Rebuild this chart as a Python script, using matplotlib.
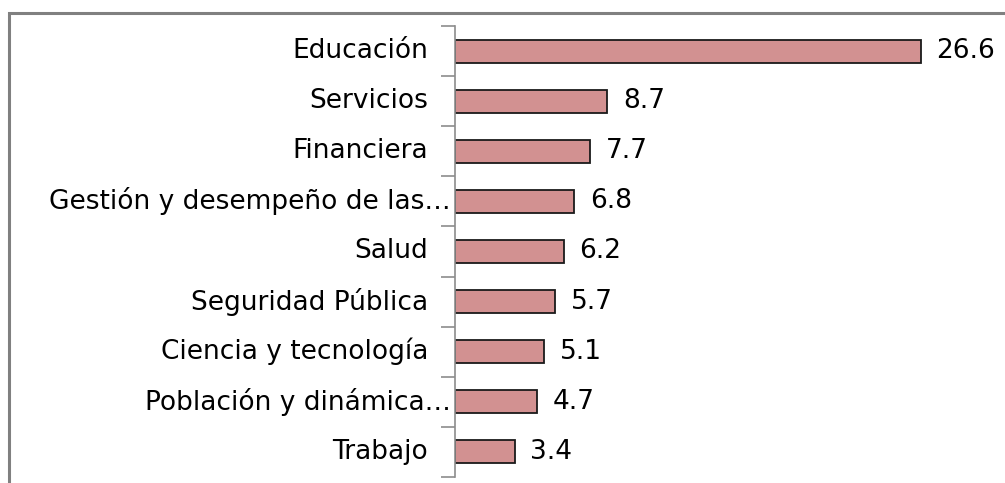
import matplotlib.pyplot as plt
from matplotlib.patches import Rectangle
import numpy as np

categories = ["Educación", "Servicios", "Financiera", "Gestión y desempeño de las…",
              "Salud", "Seguridad Pública", "Ciencia y tecnología",
              "Población y dinámica…", "Trabajo"]
values = [26.6, 8.7, 7.7, 6.8, 6.2, 5.7, 5.1, 4.7, 3.4]

W, H = 1005, 483
fig = plt.figure(figsize=(W / 100, H / 100), dpi=100)

# outer frame (right/bottom edges fall outside the image, like the original)
fig.patches.append(Rectangle((8.5 / W, -0.1), 1.2, 1.1 - 13.5 / H, transform=fig.transFigure,
                             fill=False, edgecolor="#808080", linewidth=2.2))

ax = fig.add_axes([455 / W, 1 - 477 / H, 525 / W, 451 / H])
y = np.arange(len(categories))
ax.barh(y, values, height=0.46, color="#d29191", edgecolor="#1a1a1a", linewidth=1.3)

for yi, v in zip(y, values):
    ax.text(v + 0.9, yi, f"{v:.1f}", va="center", ha="left", fontsize=19)

# category labels; truncated ones run right up to the axis
for yi, lab in zip(y, categories):
    off = -4 if lab.endswith("…") else -27
    ax.annotate(lab, xy=(0, yi), xycoords=("axes fraction", "data"),
                xytext=(off, 0), textcoords="offset pixels",
                ha="right", va="center", fontsize=19)

ax.set_ylim(len(categories) - 0.5, -0.5)
ax.set_xlim(0, 30)
ax.set_yticks([])
ax.set_yticks(np.arange(-0.5, len(categories), 1), minor=True)
ax.tick_params(axis="y", which="minor", length=10, width=1.2, color="#8c8c8c")
ax.set_xticks([])
for s in ["top", "right", "bottom"]:
    ax.spines[s].set_visible(False)
ax.spines["left"].set_color("#8c8c8c")
ax.spines["left"].set_linewidth(1.2)

fig.savefig("out.png", dpi=100)
